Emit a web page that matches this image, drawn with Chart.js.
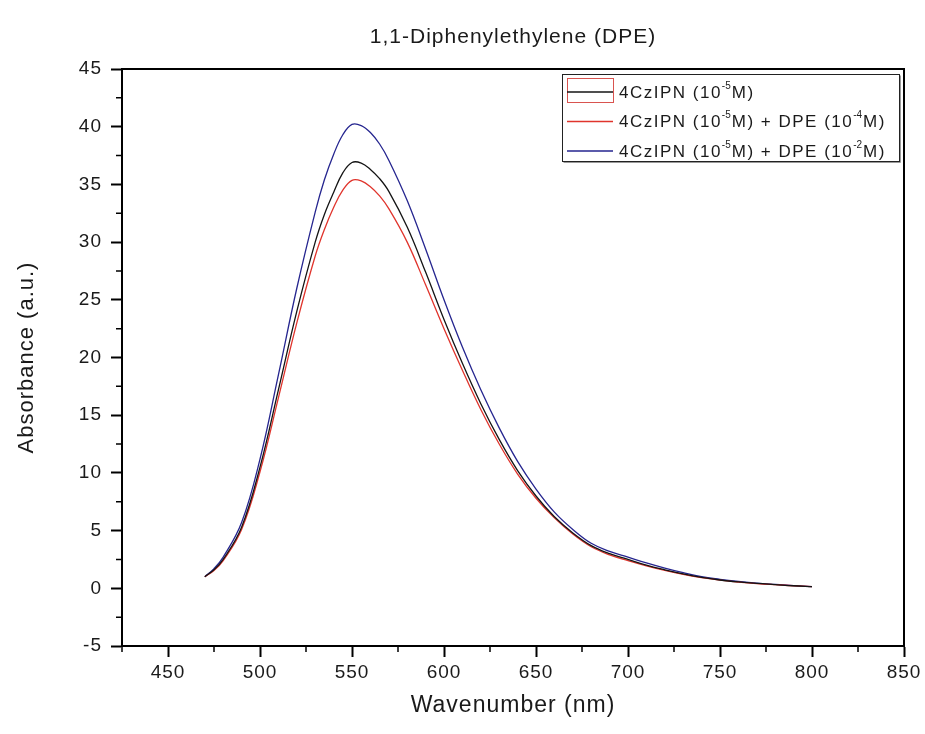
<!DOCTYPE html>
<html>
<head>
<meta charset="utf-8">
<script src="https://cdn.jsdelivr.net/npm/chart.js@4.4.1/dist/chart.umd.min.js"></script>
<style>
  html, body { margin: 0; padding: 0; background: #fff; }
  #wrap { width: 925px; height: 734px; }
</style>
</head>
<body>
<div id="wrap"><canvas id="spectrum" width="925" height="734"></canvas></div>
<script>
// Wavelength grid (nm)
const wavelengths = [470, 475, 480, 490, 500, 510, 520, 530, 535, 540, 545, 550, 555, 560, 565, 570, 580, 590,
  600, 610, 620, 630, 640, 650, 660, 670, 680, 690, 700, 710, 720, 730, 740, 750, 760, 770, 780, 790, 800];

// 4CzIPN (10^-5 M)
const cznOnly = [1.0, 1.6, 2.5, 5.3, 10.5, 17.2, 24.0, 30.0, 32.4, 34.3, 36.0, 36.9, 36.85, 36.3, 35.5, 34.4, 31.3, 27.4,
  23.3, 19.5, 16.0, 12.9, 10.2, 8.0, 6.2, 4.8, 3.7, 3.0, 2.5, 2.0, 1.6, 1.25, 0.95, 0.72, 0.55, 0.42, 0.32, 0.22, 0.15];
// + DPE (10^-4 M)
const dpeLow = [1.0, 1.55, 2.4, 5.1, 10.1, 16.5, 23.0, 28.8, 31.1, 33.0, 34.5, 35.35, 35.3, 34.8, 34.0, 32.9, 30.0, 26.3,
  22.5, 18.9, 15.5, 12.5, 9.9, 7.8, 6.1, 4.7, 3.6, 2.9, 2.4, 1.95, 1.55, 1.2, 0.92, 0.7, 0.54, 0.41, 0.31, 0.22, 0.15];
// + DPE (10^-2 M)
const dpeHigh = [1.0, 1.7, 2.7, 5.7, 11.2, 18.5, 26.0, 32.6, 35.4, 37.6, 39.3, 40.2, 40.1, 39.5, 38.5, 37.1, 33.6, 29.4,
  25.0, 20.9, 17.2, 13.9, 11.0, 8.6, 6.6, 5.1, 3.9, 3.2, 2.7, 2.2, 1.75, 1.35, 1.0, 0.78, 0.6, 0.45, 0.34, 0.24, 0.15];

// Axis ticks
const xTickValues = [450, 500, 550, 600, 650, 700, 750, 800, 850];
const yTickValues = [-5, 0, 5, 10, 15, 20, 25, 30, 35, 40, 45];

const seriesLabels = ['4CzIPN (10^{-5}M)', '4CzIPN (10^{-5}M) + DPE (10^{-4}M)', '4CzIPN (10^{-5}M) + DPE (10^{-2}M)'];
const seriesColors = ['#141414', '#e0342c', '#25258f'];

const chartTitle = '1,1-Diphenylethylene (DPE)';
const xTitle = 'Wavenumber (nm)';
const yTitle = 'Absorbance (a.u.)';

const FONT = '"Liberation Sans", Arial, sans-serif';

function toPoints(ys) {
    return wavelengths.map((x, i) => ({ x: x, y: ys[i] }));
}

/**
 * Draws text with ^{...} parts as small raised superscripts
 */
function drawRichText(ctx, text, x, y, size) {
    const parts = text.split(/(\^\{[^}]*\})/);
    let cx = x;
    parts.forEach(p => {
        if (!p) return;
        if (p.startsWith('^{')) {
            const s = p.slice(2, -1);
            ctx.letterSpacing = '0px';
            ctx.font = `${Math.round(size * 0.58)}px ${FONT}`;
            ctx.fillText(s, cx, y - size * 0.42);
            cx += ctx.measureText(s).width + 1;
        } else {
            ctx.letterSpacing = '1.5px';
            ctx.font = `${size}px ${FONT}`;
            ctx.fillText(p, cx, y);
            cx += ctx.measureText(p).width;
        }
    });
}

// Origin plots look a bit wide; widen every label a little
const wideText = {
    id: 'wideText',
    beforeDraw(chart) {
        chart.ctx.letterSpacing = '1px';
    }
};

// Frame, minor ticks, title and the boxed legend (Origin style)
const originFrame = {
    id: 'originFrame',
    afterDraw(chart) {
        const { ctx, chartArea: a, scales: { x, y } } = chart;
        ctx.save();
        ctx.strokeStyle = '#000';
        ctx.lineWidth = 2;
        ctx.beginPath();
        ctx.moveTo(a.left, a.top); ctx.lineTo(a.right, a.top); ctx.lineTo(a.right, a.bottom);
        ctx.stroke();

        // minor ticks
        ctx.lineWidth = 1.5;
        ctx.beginPath();
        for (let v = 425; v <= 850; v += 25) {
            if (v % 50 === 0) continue;
            const px = x.getPixelForValue(v);
            ctx.moveTo(px, a.bottom); ctx.lineTo(px, a.bottom + 6);
        }
        for (let v = -2.5; v < 45; v += 5) {
            const py = y.getPixelForValue(v);
            ctx.moveTo(a.left, py); ctx.lineTo(a.left - 6, py);
        }
        ctx.stroke();

        // title
        ctx.fillStyle = '#1a1a1a';
        ctx.font = `21px ${FONT}`;
        ctx.letterSpacing = '1px';
        ctx.textAlign = 'center';
        ctx.textBaseline = 'middle';
        ctx.fillText(chartTitle, (a.left + a.right) / 2, 37);

        // legend
        const lx = 562, ly = 74, lw = 337, lh = 87;
        ctx.fillStyle = '#fff';
        ctx.fillRect(lx, ly, lw, lh);
        ctx.lineWidth = 1;
        ctx.strokeStyle = '#222';
        ctx.strokeRect(lx + 0.5, ly + 0.5, lw, lh);
        ctx.strokeStyle = '#999';
        ctx.beginPath();
        ctx.moveTo(lx + 1.5, ly + lh + 1.5); ctx.lineTo(lx + lw + 1.5, ly + lh + 1.5); ctx.lineTo(lx + lw + 1.5, ly + 1.5);
        ctx.stroke();

        ctx.textAlign = 'left';
        ctx.textBaseline = 'middle';
        seriesLabels.forEach((label, i) => {
            const rowY = ly + 18 + i * 29.5;
            if (i === 0) {
                ctx.strokeStyle = '#d9534f';
                ctx.lineWidth = 1;
                ctx.strokeRect(567.5, rowY - 13.5, 46, 24);
            }
            ctx.strokeStyle = seriesColors[i];
            ctx.lineWidth = 1.3;
            ctx.beginPath();
            ctx.moveTo(567, rowY); ctx.lineTo(613, rowY);
            ctx.stroke();
            ctx.fillStyle = '#1a1a1a';
            drawRichText(ctx, label, 619, rowY + 1, 17);
        });
        ctx.restore();
    }
};

const ctx = document.getElementById('spectrum').getContext('2d');
new Chart(ctx, {
    type: 'line',
    data: {
        datasets: [cznOnly, dpeLow, dpeHigh].map((ys, i) => ({
            label: seriesLabels[i],
            data: toPoints(ys),
            borderColor: seriesColors[i],
            borderWidth: 1.3,
            pointRadius: 0,
            tension: 0.4,
            fill: false
        }))
    },
    options: {
        responsive: false,
        animation: false,
        layout: { padding: { top: 69, right: 21, left: 0, bottom: 0 } },
        plugins: {
            legend: { display: false },
            title: { display: false },
            tooltip: { enabled: false }
        },
        scales: {
            x: {
                type: 'linear',
                min: 425,
                max: 850,
                afterBuildTicks: scale => {
                    scale.ticks = xTickValues.map(v => ({ value: v }));
                },
                afterFit: scale => { scale.height = 88; },
                ticks: { color: '#1a1a1a', font: { size: 19, family: FONT }, padding: 4, maxRotation: 0 },
                grid: { drawOnChartArea: false, tickLength: 11, tickColor: '#000', tickWidth: 2 },
                border: { color: '#000', width: 2 },
                title: { display: true, text: xTitle, color: '#1a1a1a', font: { size: 23, family: FONT }, padding: { top: 0, bottom: 15 } }
            },
            y: {
                min: -5,
                max: 45,
                afterBuildTicks: scale => {
                    scale.ticks = yTickValues.map(v => ({ value: v }));
                },
                afterFit: scale => { scale.width = 122; },
                ticks: { color: '#1a1a1a', font: { size: 19, family: FONT }, padding: 9 },
                grid: { drawOnChartArea: false, tickLength: 11, tickColor: '#000', tickWidth: 2 },
                border: { color: '#000', width: 2 },
                title: { display: true, text: yTitle, color: '#1a1a1a', font: { size: 22, family: FONT }, padding: { top: 14, bottom: 0 } }
            }
        }
    },
    plugins: [wideText, originFrame]
});
</script>
</body>
</html>
